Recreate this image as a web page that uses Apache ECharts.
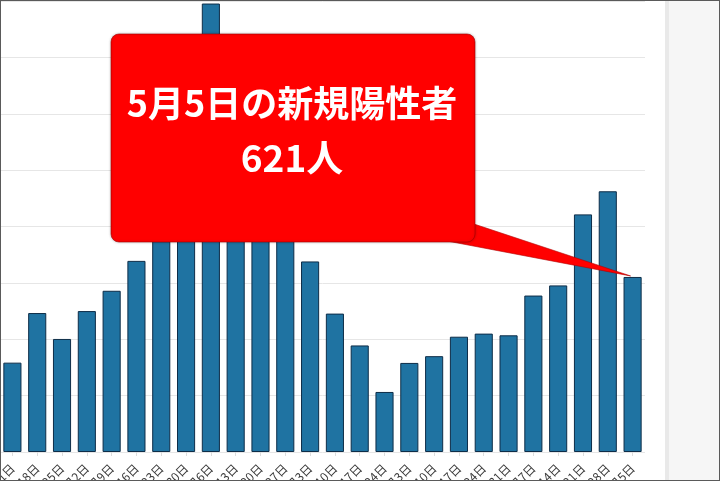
<!DOCTYPE html>
<html>
<head>
<meta charset="utf-8">
<script src="https://cdn.jsdelivr.net/npm/echarts@6/dist/echarts.min.js"></script>
<style>
  html, body { margin: 0; padding: 0; background: #fff; }
  #wrap { position: relative; width: 720px; height: 481px; overflow: hidden; background: #fff; }
  #chart { position: absolute; left: 0; top: 0; width: 720px; height: 481px; }
  #panel { position: absolute; left: 665px; top: 0; width: 55px; height: 481px; background: #f6f6f6; border-left: 4px solid #e9e9e9; box-sizing: border-box; }
  #frame { position: absolute; left: 0; top: 0; width: 720px; height: 481px; border: 1px solid #5a5a5a; box-sizing: border-box; pointer-events: none; }
</style>
</head>
<body>
<div id="wrap">
  <div id="panel"></div>
  <div id="chart"></div>
  <div id="frame"></div>
</div>
<script>
// Weekly (Wednesday) new positive cases
const dates = ['11月11日','11月18日','11月25日','12月2日','12月9日','12月16日','12月23日','12月30日',
  '1月6日','1月13日','1月20日','1月27日','2月3日','2月10日','2月17日','2月24日',
  '3月3日','3月10日','3月17日','3月24日','3月31日','4月7日','4月14日','4月21日','4月28日','5月5日'];
const cases = [317,493,401,500,572,678,748,944,1591,1433,1274,973,676,491,378,213,
  316,340,409,420,414,555,591,843,925,621];
const calloutLine1 = '5月5日の新規陽性者';
const calloutLine2 = '621人';

const chart = echarts.init(document.getElementById('chart'), null, { renderer: 'canvas' });
chart.setOption({
  animation: false,
  backgroundColor: 'transparent',
  grid: { left: 0, right: 75, top: 1, bottom: 29, containLabel: false, outerBoundsMode: 'none' },
  xAxis: {
    type: 'category',
    data: dates,
    axisLine: { show: false },
    axisTick: { show: true, alignWithLabel: true, length: 4, lineStyle: { color: '#dddddd' } },
    axisLabel: { interval: 0, rotate: 45, fontSize: 12, color: '#3a3a3a', margin: 14, fontFamily: 'Noto Sans CJK JP' }
  },
  yAxis: {
    type: 'value',
    min: 0, max: 1600, interval: 200,
    axisLabel: { show: false },
    axisLine: { show: false },
    axisTick: { show: false },
    splitLine: { lineStyle: { color: '#e6e6e6', width: 1 } }
  },
  series: [{
    type: 'bar',
    data: cases,
    barCategoryGap: '27%',
    itemStyle: { color: '#1f73a2', borderColor: '#0e2d48', borderWidth: 1 }
  }]
});

const lastIdx = cases.length - 1;
const tip = chart.convertToPixel({ seriesIndex: 0 }, [lastIdx, cases[lastIdx]]);
const boxL = 111, boxT = 34, boxW = 364, boxH = 208;
chart.setOption({
  graphic: [
    {
      type: 'polygon', z: 100,
      shape: { points: [[boxL + boxW - 1, 224], [tip[0] - 2, tip[1] - 1], [447, boxT + boxH - 1]] },
      style: { fill: '#ff0000', stroke: '#b00000', lineWidth: 0.6 }
    },
    {
      type: 'rect', z: 101,
      shape: { x: boxL, y: boxT, width: boxW, height: boxH, r: 8 },
      style: { fill: '#ff0000', stroke: '#a00000', lineWidth: 0.6, shadowBlur: 3, shadowColor: 'rgba(0,0,0,0.25)' }
    },
    {
      type: 'text', z: 102,
      x: 292, y: 103,
      style: { text: calloutLine1, fill: '#ffffff', fontSize: 36, fontWeight: 'bold',
        fontFamily: 'Noto Sans CJK JP', align: 'center', verticalAlign: 'middle' }
    },
    {
      type: 'text', z: 102,
      x: 292, y: 158,
      style: { text: calloutLine2, fill: '#ffffff', fontSize: 37, fontWeight: 'bold',
        fontFamily: 'Noto Sans CJK JP', align: 'center', verticalAlign: 'middle' }
    }
  ]
});
</script>
</body>
</html>
